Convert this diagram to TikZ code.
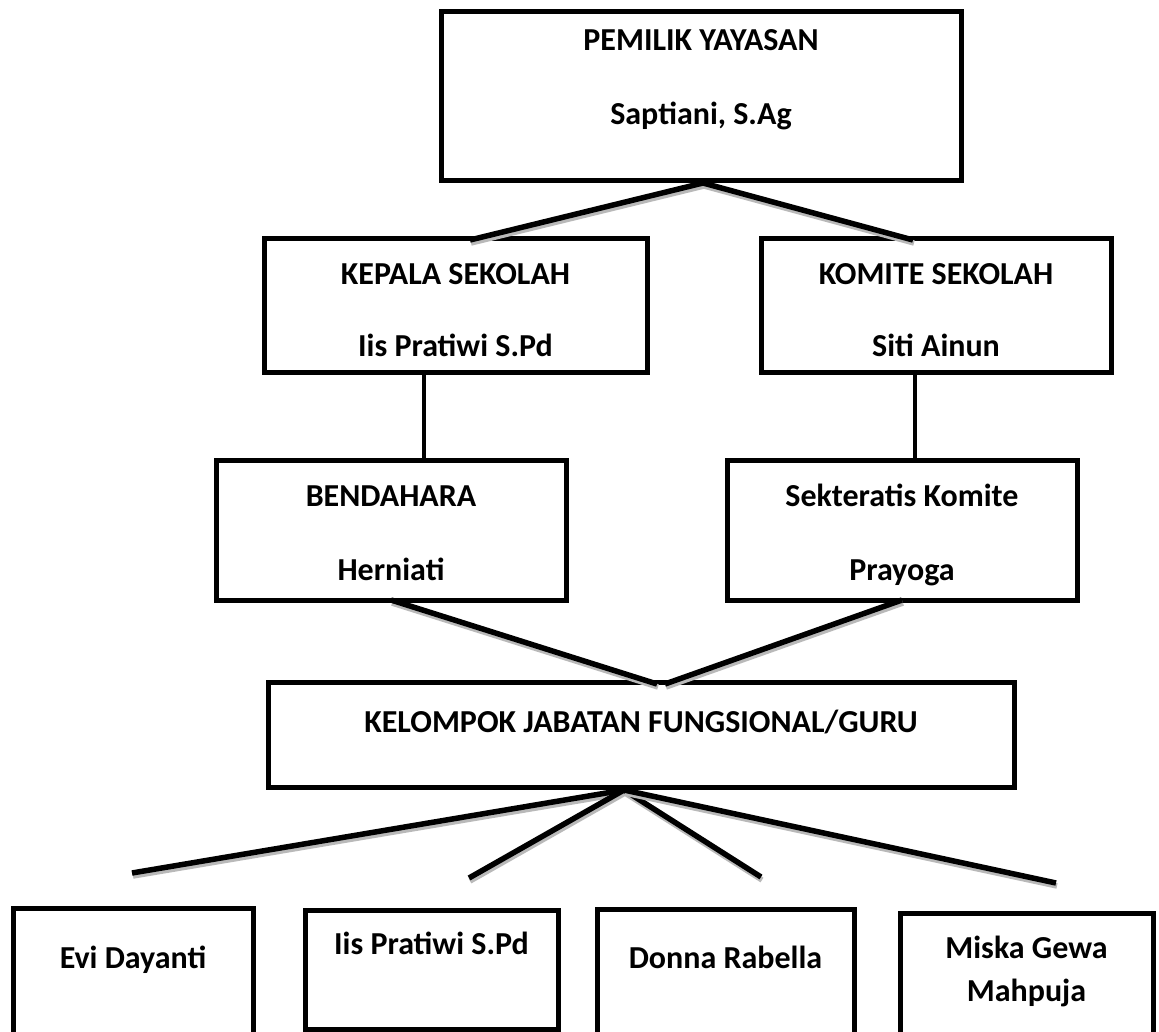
\documentclass[tikz,border=0pt]{standalone}
\usepackage{fontspec}
\setmainfont{Carlito}
\usetikzlibrary{calc}
\begin{document}
\begin{tikzpicture}[x=1pt,y=-1pt,
  box/.style={draw=black, line width=5pt, rectangle, inner sep=0pt, outer sep=0pt, anchor=north west},
  lbl/.style={font=\fontsize{32}{38}\selectfont\bfseries, anchor=base, inner sep=0pt},
  conn/.style={line width=5.5pt, draw=black, preaction={draw=gray!55, line width=5.5pt, transform canvas={shift={(1pt,-3pt)}}}},
  vconn/.style={line width=4.5pt, draw=black}]
\clip (0,0) rectangle (1159,1032);
\fill[white] (0,0) rectangle (1159,1032);
% boxes
\node[box, minimum width=520pt, minimum height=169pt] (top) at (441,12) {};
\node[box, minimum width=383pt, minimum height=133pt] (kepala) at (264,239) {};
\node[box, minimum width=350pt, minimum height=133pt] (komite) at (761,239) {};
\node[box, minimum width=350pt, minimum height=140pt] (bendahara) at (216,460) {};
\node[box, minimum width=350pt, minimum height=140pt] (sekteratis) at (727,460) {};
\node[box, minimum width=746pt, minimum height=105pt] (kelompok) at (268,682) {};
\node[box, minimum width=240pt, minimum height=160pt] (evi) at (13,908) {};
\node[box, minimum width=253pt, minimum height=119pt] (iis2) at (305,910) {};
\node[box, minimum width=257pt, minimum height=160pt] (donna) at (597,909) {};
\node[box, minimum width=253pt, minimum height=160pt] (miska) at (900,913) {};
% labels
\node[lbl] (topA) at (701,51) {PEMILIK YAYASAN};
\node[lbl] (topB) at (701,125) {Saptiani, S.Ag};
\node[lbl] (kepA) at (455.5,284) {KEPALA SEKOLAH};
\node[lbl] (kepB) at (455.5,356) {Iis Pratiwi S.Pd};
\node[lbl] (komA) at (936,284) {KOMITE SEKOLAH};
\node[lbl] (komB) at (936,356) {Siti Ainun};
\node[lbl] (benA) at (391,506) {BENDAHARA};
\node[lbl] (benB) at (391,580) {Herniati};
\node[lbl] (sekA) at (902,506) {Sekteratis Komite};
\node[lbl] (sekB) at (902,580) {Prayoga};
\node[lbl] (kelA) at (641,732) {KELOMPOK JABATAN FUNGSIONAL/GURU};
\node[lbl] (eviA) at (133,968) {Evi Dayanti};
\node[lbl] (iisA) at (431.5,954) {Iis Pratiwi S.Pd};
\node[lbl] (donA) at (725.5,968) {Donna Rabella};
\node[lbl] (misA) at (1026.5,958) {Miska Gewa};
\node[lbl] (misB) at (1026.5,1001) {Mahpuja};
% connectors
\draw[conn] ($(kepala.north)+(14.5,1)$) -- ($(top.south)+(2,2)$) -- ($(komite.north)+(-23,1)$);
\coordinate (kv) at ($(kepala.south)+(-31.5,0)$);
\coordinate (mv) at ($(komite.south)+(-21,0)$);
\draw[vconn] (kv) -- (kv |- bendahara.north);
\draw[vconn] (mv) -- (mv |- sekteratis.north);
\draw[conn] (bendahara.south) -- ($(kelompok.north)+(16,2)$);
\draw[conn] (sekteratis.south) -- ($(kelompok.north)+(24,2)$);
\coordinate (fan) at ($(kelompok.south)+(-17,3)$);
\coordinate (e1) at ($(evi.north)+(-1,-35)$);
\coordinate (e2) at ($(iis2.north)+(37.5,-32)$);
\coordinate (e3) at ($(donna.north)+(35.5,-32)$);
\coordinate (e4) at ($(miska.north)+(29.5,-30)$);
\draw[conn] (fan) -- (e1);
\draw[conn] (fan) -- (e2);
\draw[conn] (fan) -- (e3);
\draw[conn] (fan) -- (e4);
\end{tikzpicture}
\end{document}
